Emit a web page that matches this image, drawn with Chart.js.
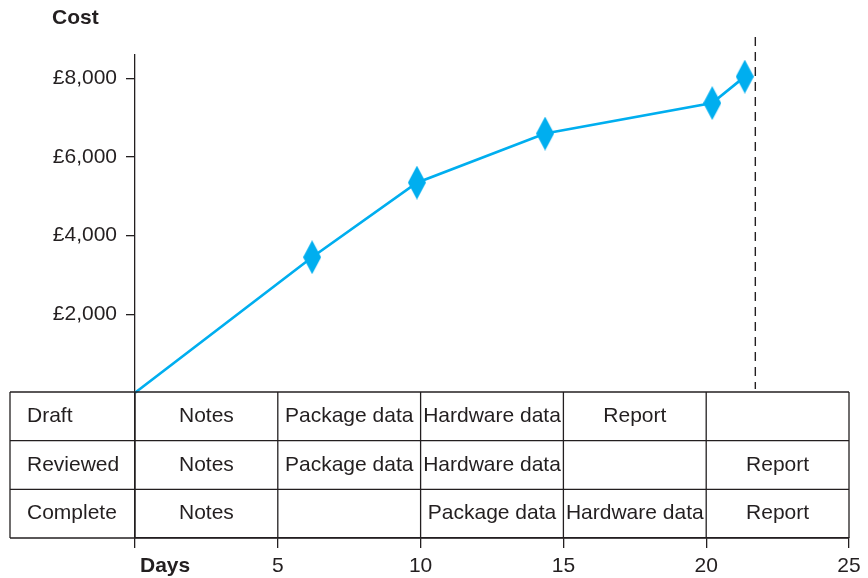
<!DOCTYPE html>
<html>
<head>
<meta charset="utf-8">
<title>Cost over days</title>
<script src="https://cdn.jsdelivr.net/npm/chart.js@4.4.1/dist/chart.umd.min.js"></script>
<style>
  html, body { margin: 0; padding: 0; background: #fff; }
  #wrap { width: 868px; height: 578px; }
</style>
</head>
<body>
<div id="wrap"><canvas id="costChart" width="868" height="578"></canvas></div>
<script>
// =========================
// Data
// =========================

const days = [0, 6.2, 9.87, 14.36, 20.21, 21.35];
const costs = [0, 3450, 5350, 6600, 7375, 8050];
const costTicks = [2000, 4000, 6000, 8000];
const dayTicks = [0, 5, 10, 15, 20, 25];
const deadlineDay = 21.72;

const stages = ["Draft", "Reviewed", "Complete"];
const draftTasks = ["Notes", "Package data", "Hardware data", "Report", ""];
const reviewedTasks = ["Notes", "Package data", "Hardware data", "", "Report"];
const completeTasks = ["Notes", "", "Package data", "Hardware data", "Report"];

// =========================
// Style
// =========================

const INK = "#231f20";
const CYAN = "#00aeef";
const FONT = "'Liberation Sans', Arial, Helvetica, sans-serif";

function makeDiamond(w, h, color) {
  const c = document.createElement("canvas");
  c.width = w;
  c.height = h;
  const g = c.getContext("2d");
  g.fillStyle = color;
  g.beginPath();
  g.moveTo(w / 2, 0);
  g.lineTo(w, h / 2);
  g.lineTo(w / 2, h);
  g.lineTo(0, h / 2);
  g.closePath();
  g.fill();
  return c;
}

// =========================
// Table + labels plugin
// =========================

const taskTable = {
  id: "taskTable",
  afterDraw(chart) {
    const { ctx, chartArea, scales } = chart;
    const xs = scales.x;
    const ys = scales.y;
    const top = Math.round(ys.getPixelForValue(0)) - 1;
    const bottom = chartArea.bottom;
    const left = 10;
    const right = xs.getPixelForValue(dayTicks[dayTicks.length - 1]);
    const rowH = (bottom - top) / stages.length;
    const rows = [draftTasks, reviewedTasks, completeTasks];

    ctx.save();
    ctx.strokeStyle = INK;
    ctx.lineWidth = 1.3;

    // horizontal lines
    for (let r = 0; r <= stages.length; r++) {
      const yy = top + r * rowH;
      ctx.beginPath();
      ctx.moveTo(left, yy);
      ctx.lineTo(right, yy);
      ctx.stroke();
    }
    // vertical lines
    const cols = [left].concat(dayTicks.map((d) => xs.getPixelForValue(d)));
    cols.forEach((xx) => {
      ctx.beginPath();
      ctx.moveTo(xx, top);
      ctx.lineTo(xx, bottom);
      ctx.stroke();
    });

    // cell text
    ctx.fillStyle = INK;
    ctx.font = `21px ${FONT}`;
    ctx.textBaseline = "middle";
    stages.forEach((s, r) => {
      const cy = top + r * rowH + rowH / 2;
      ctx.textAlign = "left";
      ctx.fillText(s, 27, cy);
      ctx.textAlign = "center";
      rows[r].forEach((t, c) => {
        if (!t) return;
        const x0 = xs.getPixelForValue(dayTicks[c]);
        const x1 = xs.getPixelForValue(dayTicks[c + 1]);
        ctx.fillText(t, (x0 + x1) / 2, cy);
      });
    });

    // deadline
    const dx = xs.getPixelForValue(deadlineDay);
    ctx.setLineDash([9, 6]);
    ctx.lineWidth = 1.4;
    ctx.beginPath();
    ctx.moveTo(dx, 37);
    ctx.lineTo(dx, top - 3);
    ctx.stroke();
    ctx.setLineDash([]);

    // axis titles
    ctx.font = `bold 21px ${FONT}`;
    ctx.textAlign = "left";
    ctx.fillText("Cost", 52, 18);
    ctx.fillText("Days", 140, 566);
    ctx.restore();
  },
};

// =========================
// Chart
// =========================

function initChart() {
  const ctx = document.getElementById("costChart");
  const diamond = makeDiamond(18, 34, CYAN);

  new Chart(ctx, {
    type: "line",
    data: {
      datasets: [
        {
          data: days.map((d, i) => ({ x: d, y: costs[i] })),
          borderColor: CYAN,
          borderWidth: 2.7,
          tension: 0,
          pointStyle: diamond,
          pointRadius: (c) => (c.dataIndex === 0 ? 0 : 9),
          clip: false,
        },
      ],
    },
    options: {
      responsive: false,
      animation: false,
      layout: { padding: { top: 55, right: 19, left: 0, bottom: 0 } },
      plugins: { legend: { display: false }, tooltip: { enabled: false } },
      scales: {
        x: {
          type: "linear",
          min: 0,
          max: 25,
          afterBuildTicks: (s) => {
            s.ticks = dayTicks.map((v) => ({ value: v }));
          },
          afterFit: (s) => {
            s.height = 40;
          },
          ticks: {
            callback: (v) => (v === 0 ? "" : String(v)),
            font: { family: FONT, size: 21 },
            color: INK,
            padding: 6,
            maxRotation: 0,
          },
          grid: { drawOnChartArea: false, tickLength: 10, color: INK, lineWidth: 1.3 },
          border: { display: true, color: INK, width: 1.3 },
        },
        y: {
          min: -3700,
          max: 8600,
          afterBuildTicks: (s) => {
            s.ticks = costTicks.map((v) => ({ value: v }));
          },
          afterFit: (s) => {
            s.width = 135;
          },
          ticks: {
            callback: (v) => "£" + Number(v).toLocaleString("en-GB"),
            font: { family: FONT, size: 21 },
            color: INK,
            padding: 9,
          },
          grid: { drawOnChartArea: false, tickLength: 9, color: INK, lineWidth: 1.3 },
          border: { display: true, color: INK, width: 1.3 },
        },
      },
    },
    plugins: [taskTable],
  });
}

document.addEventListener("DOMContentLoaded", initChart);
</script>
</body>
</html>
